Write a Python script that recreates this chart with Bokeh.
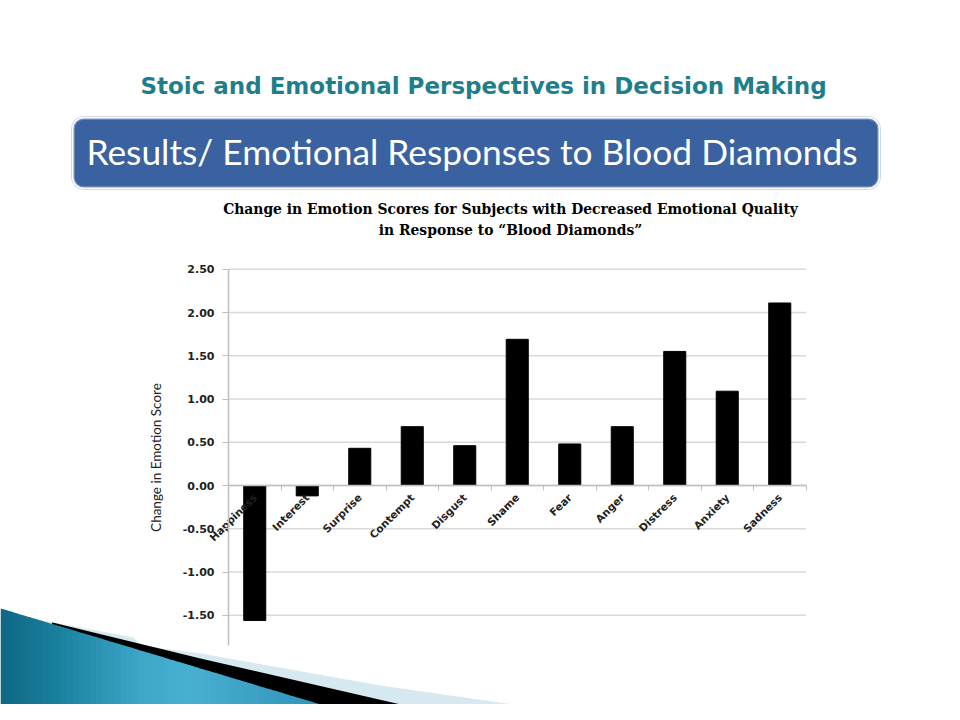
from math import pi
from bokeh.plotting import figure
from bokeh.models import (Range1d, LinearAxis, FixedTicker, PrintfTickFormatter,
                          BoxAnnotation, Label)
from bokeh.embed import file_html
from bokeh.resources import INLINE

# ---------------- data ----------------
categories = ["Happiness", "Interest", "Surprise", "Contempt", "Disgust", "Shame",
              "Fear", "Anger", "Distress", "Anxiety", "Sadness"]
changes = [-1.56, -0.12, 0.43, 0.68, 0.46, 1.69, 0.48, 0.68, 1.55, 1.09, 2.11]
y_ticks = [-1.5, -1.0, -0.5, 0.0, 0.5, 1.0, 1.5, 2.0, 2.5]
y_axis_bounds = (-1.85, 2.5)

slide_title = "Stoic and Emotional Perspectives in Decision Making"
box_title = "Results/ Emotional Responses to Blood Diamonds"
chart_title_1 = "Change in Emotion Scores for Subjects with Decreased Emotional Quality"
chart_title_2 = "in Response to \u201cBlood Diamonds\u201d"
y_title = "Change in Emotion Score"

# ---------------- layout (picture pixels) ----------------
W, H = 944, 704
PLOT_LEFT = 228.0
SLOT = 52.5
ZERO_Y = 485.0
PX_PER_UNIT = 86.5

def wy(v):
    return H - v

n = len(categories)
xs = [i + 0.5 for i in range(n)]

p = figure(width=W, height=H, output_backend="svg", toolbar_location=None,
           x_range=Range1d(0, W), y_range=Range1d(0, H),
           x_axis_location=None, y_axis_location=None, min_border=0,
           outline_line_color=None, background_fill_color="white")
p.xgrid.visible = False
p.ygrid.visible = False

p.extra_x_ranges = {"cx": Range1d((0 - PLOT_LEFT) / SLOT, (W - PLOT_LEFT) / SLOT)}
p.extra_y_ranges = {"cy": Range1d((ZERO_Y - H) / PX_PER_UNIT, ZERO_Y / PX_PER_UNIT)}

# ---------------- slide decorations ----------------
p.add_layout(Label(x=483, y=wy(85), text=slide_title, text_align="center",
                   text_baseline="alphabetic", text_font="DejaVu Sans",
                   text_font_style="bold", text_font_size="23px", text_color="#1F7E8B"))

p.add_layout(BoxAnnotation(left=71, right=880, bottom=wy(189), top=wy(116),
                           border_radius=12, fill_color=None, line_color="#5F82BC",
                           line_width=1))
p.add_layout(BoxAnnotation(left=73, right=878, bottom=wy(187), top=wy(118),
                           border_radius=10, fill_color="#3B62A0", fill_alpha=1,
                           line_color="white", line_width=2.5))
p.add_layout(Label(x=86, y=wy(151), text=box_title, text_align="left",
                   text_baseline="alphabetic", text_font="Lato",
                   text_font_size="35.3px", text_color="white"))

# bottom-left swoosh
p.patch([48, 133, 140, 200, 380, 625, 0, 0],
        [wy(v) for v in [621, 637, 645, 653, 685, 720, 720, 621]],
        fill_color="#D6E8F0", line_color=None)
p.patch([52, 200, 470, 0], [wy(v) for v in [622, 658, 720, 720]],
        fill_color="black", line_color=None)

stops = [(0, (15, 104, 132)), (60, (27, 130, 160)), (140, (62, 166, 200)),
         (190, (72, 176, 210)), (260, (60, 160, 196)), (380, (40, 138, 176))]

def col_at(x):
    for (x0, c0), (x1, c1) in zip(stops[:-1], stops[1:]):
        if x0 <= x <= x1:
            t = (x - x0) / (x1 - x0)
            return "#%02x%02x%02x" % tuple(int(a + (b - a) * t) for a, b in zip(c0, c1))
    return "#%02x%02x%02x" % stops[-1][1]

def edge(x):
    return min(720.0, 608 + 0.3 * x)

step = 6
x = 0
while x < 374:
    x2 = min(x + step, 374)
    p.patch([x, x2 + 0.6, x2 + 0.6, x], [wy(edge(x)), wy(edge(x2)), wy(720), wy(720)],
            fill_color=col_at((x + x2) / 2), line_color=None)
    x = x2

# ---------------- chart ----------------
p.add_layout(Label(x=510, y=wy(208), text=chart_title_1, text_align="center",
                   text_baseline="alphabetic", text_font="DejaVu Serif",
                   text_font_style="bold", text_font_size="13.9px", text_color="black"))
p.add_layout(Label(x=510, y=wy(229), text=chart_title_2, text_align="center",
                   text_baseline="alphabetic", text_font="DejaVu Serif",
                   text_font_style="bold", text_font_size="13.9px", text_color="black"))

p.segment(x0=[0] * len(y_ticks), x1=[n] * len(y_ticks), y0=y_ticks, y1=y_ticks,
          x_range_name="cx", y_range_name="cy", line_color="#D9D9D9", line_width=1.5)

p.vbar(x=xs, top=changes, bottom=0, width=0.42, x_range_name="cx", y_range_name="cy",
       fill_color="black", line_color="black")

yaxis = LinearAxis(x_range_name="cx", y_range_name="cy", fixed_location=0,
                   bounds=y_axis_bounds, ticker=FixedTicker(ticks=y_ticks),
                   formatter=PrintfTickFormatter(format="%.2f"), axis_label=y_title)
yaxis.axis_line_color = "#BFBFBF"
yaxis.axis_line_width = 1.5
yaxis.major_tick_line_color = "#BFBFBF"
yaxis.major_tick_out = 6
yaxis.major_tick_in = 0
yaxis.minor_tick_line_color = None
yaxis.major_label_standoff = 8
yaxis.major_label_text_font = "DejaVu Sans"
yaxis.major_label_text_font_style = "bold"
yaxis.major_label_text_font_size = "11px"
yaxis.major_label_text_color = "#222222"
yaxis.axis_label_text_font = "Lato"
yaxis.axis_label_text_font_style = "normal"
yaxis.axis_label_text_font_size = "13.5px"
yaxis.axis_label_text_color = "#222222"
yaxis.axis_label_standoff = 16
p.add_layout(yaxis, "left")

xaxis = LinearAxis(x_range_name="cx", y_range_name="cy", fixed_location=0,
                   bounds=(0, n),
                   ticker=FixedTicker(ticks=xs, minor_ticks=list(range(n + 1))),
                   major_label_overrides={x_: c for x_, c in zip(xs, categories)},
                   major_label_orientation=pi / 4)
xaxis.axis_line_color = "#BFBFBF"
xaxis.axis_line_width = 1.5
xaxis.major_tick_line_color = None
xaxis.major_tick_out = 0
xaxis.major_tick_in = 0
xaxis.minor_tick_line_color = "#BFBFBF"
xaxis.minor_tick_out = 5
xaxis.minor_tick_in = 0
xaxis.major_label_standoff = 5
xaxis.major_label_text_font = "DejaVu Sans"
xaxis.major_label_text_font_style = "bold"
xaxis.major_label_text_font_size = "10.5px"
xaxis.major_label_text_color = "#222222"
p.add_layout(xaxis, "below")

open("out.html", "w").write(file_html(p, INLINE))
